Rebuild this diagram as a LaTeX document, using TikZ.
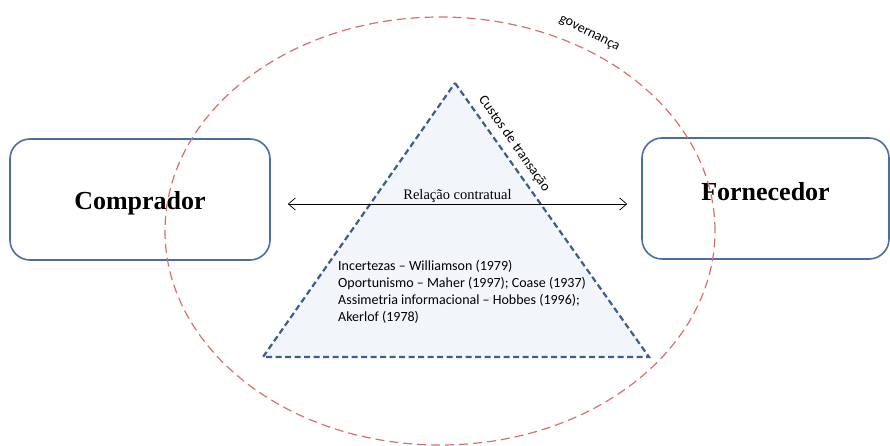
\documentclass[tikz,border=0pt]{standalone}
\usepackage{fontspec}
\usepackage{tikz}
\usetikzlibrary{arrows.meta,calc,positioning}
\newfontfamily\carlito{Carlito}
\newfontfamily\libserif{Liberation Serif}
\definecolor{boxblue}{RGB}{74,110,158}
\definecolor{tridash}{RGB}{62,93,140}
\definecolor{trifill}{RGB}{242,246,251}
\definecolor{govred}{RGB}{214,112,112}

\begin{document}
\begin{tikzpicture}[x=1pt,y=-1pt,
		party/.style={draw=boxblue, line width=1.6pt, rounded corners=20pt, minimum height=121pt,
			font=\libserif\bfseries\fontsize{26}{30}\selectfont},
		tri/.style={draw=tridash, fill=trifill, line width=2.2pt, dash pattern=on 6pt off 3.5pt},
		gov/.style={draw=govred, line width=1.2pt, dash pattern=on 9pt off 5pt},
		rel/.style={{Straight Barb[length=7pt,width=12pt]}-{Straight Barb[length=7pt,width=12pt]}, line width=0.7pt},
		note/.style={font=\carlito\fontsize{14}{17}\selectfont, inner sep=0pt}
		]
	\useasboundingbox (0,0) rectangle (890,446);

	% transaction triangle
	\coordinate (apex) at (455,83);
	\coordinate (bl) at (263,357);
	\coordinate (br) at (649,357);
	\draw[tri] (apex) -- (br) -- (bl) -- cycle;
	\path (apex) -- (br) node[pos=0.25, sloped, above=7pt, note] (custos) {Custos de transação};

	% parties
	\node[party, minimum width=260pt, text height=20pt, text depth=0pt] (comp) at (140,199.5) {Comprador};
	\node[party, minimum width=247pt, text height=18pt, text depth=14pt] (forn) at (765.5,198.5) {Fornecedor};

	\draw[rel] ([xshift=17pt,yshift=-4.5pt]comp.east) -- node[midway, above=-2pt, font=\libserif\fontsize{14.5}{16}\selectfont] (relacao) {Relação contratual} ([xshift=-14pt,yshift=-5.5pt]forn.west);

	\node[note, anchor=north west, align=left] (fontes) at (338,260) {Incertezas – Williamson (1979)\\
		Oportunismo – Maher (1997); Coase (1937)\\
		Assimetria informacional – Hobbes (1996);\\
		Akerlof (1978)};

	% governance ellipse
	\draw[gov] (440,231) ellipse [x radius=275pt, y radius=214pt];
	\node[note, rotate=-27] (govern) at (589,34) {governança};

\end{tikzpicture}
\end{document}
